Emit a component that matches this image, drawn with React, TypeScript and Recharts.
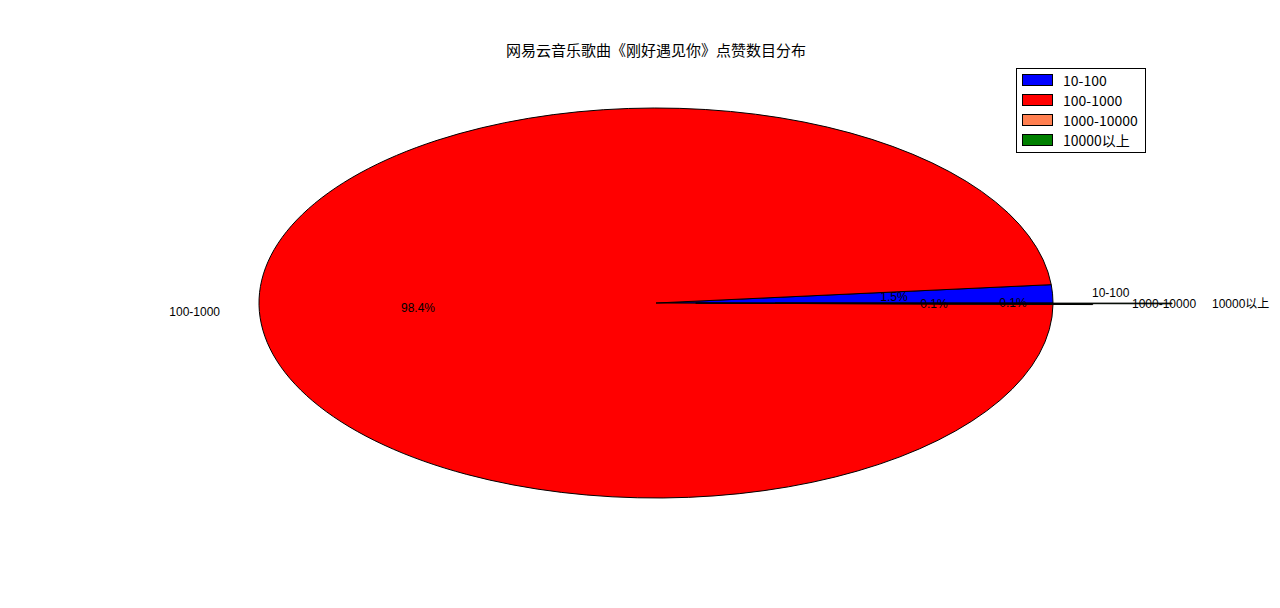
import { PieChart, Pie, Cell, Legend } from "recharts";

const CATEGORIES = ["10-100", "100-1000", "1000-10000", "10000以上"];
const COUNTS = [75, 4920, 3, 3];
const COLORS = ["#0000ff", "#ff0000", "#ff7f50", "#008000"];
const EXPLODE = [0, 0, 0.1, 0.3];
const TITLE = "网易云音乐歌曲《刚好遇见你》点赞数目分布";

const W = 1280;
const H = 608;
// the chart adds its 5px default margin to cx / cy
const CX = 651;
const CY = 298;
const RY = 195;
// matplotlib drew the pie on a non-square axis, so it comes out as an ellipse
const STRETCH = 397 / 195;
const FONT = "Noto Sans CJK SC, DejaVu Sans, sans-serif";
const LABEL_FONT = "Liberation Sans, Noto Sans CJK SC, sans-serif";
const RAD = Math.PI / 180;

const data = CATEGORIES.map((name, i) => ({ name, value: COUNTS[i] }));

function explodeOf(name: string): number {
  return EXPLODE[CATEGORIES.indexOf(name)] ?? 0;
}

function ellipsePoint(cx: number, cy: number, r: number, deg: number): [number, number] {
  return [cx + STRETCH * r * Math.cos(-deg * RAD), cy + r * Math.sin(-deg * RAD)];
}

function EllipseSector(props: any) {
  const { cx, cy, outerRadius, startAngle, endAngle, fill } = props;
  const name = props.payload?.name ?? props.name;
  const mid = (startAngle + endAngle) / 2;
  const [ox, oy] = ellipsePoint(cx, cy, outerRadius * explodeOf(name), mid);
  const [x1, y1] = ellipsePoint(ox, oy, outerRadius, startAngle);
  const [x2, y2] = ellipsePoint(ox, oy, outerRadius, endAngle);
  const large = Math.abs(endAngle - startAngle) > 180 ? 1 : 0;
  const sweep = endAngle > startAngle ? 0 : 1;
  const d = `M${ox},${oy} L${x1},${y1} A${STRETCH * outerRadius},${outerRadius} 0 ${large} ${sweep} ${x2},${y2} Z`;
  return <path d={d} fill={fill} stroke="#000" strokeWidth={1} strokeLinejoin="miter" />;
}

function renderLabel(props: any) {
  const { cx, cy, midAngle, outerRadius, percent } = props;
  const name = props.payload?.name ?? props.name;
  const [ox, oy] = ellipsePoint(cx, cy, outerRadius * explodeOf(name), midAngle);
  const [lx, ly] = ellipsePoint(ox, oy, outerRadius * 1.1, midAngle);
  const [px, py] = ellipsePoint(ox, oy, outerRadius * 0.6, midAngle);
  const anchor = Math.cos(midAngle * RAD) >= 0 ? "start" : "end";
  return (
    <g style={{ fontFamily: LABEL_FONT, fontSize: 12 }} fill="#000">
      <text x={Math.round(lx)} y={Math.round(ly) + 4} textAnchor={anchor} style={{ fontFamily: LABEL_FONT }}>
        {name}
      </text>
      <text x={Math.round(px)} y={Math.round(py) + 4} textAnchor="middle" style={{ fontFamily: LABEL_FONT }}>
        {(percent * 100).toFixed(1)}%
      </text>
    </g>
  );
}

function LegendBox(props: any) {
  const items = props.payload ?? [];
  return (
    <div
      style={{
        border: "1px solid #000",
        background: "#fff",
        padding: "1px 6px 2px 5px",
        fontFamily: FONT,
        fontSize: 14,
        lineHeight: "20px",
        width: 117,
      }}
    >
      {items.map((it: any) => (
        <div key={it.value} style={{ display: "flex", alignItems: "center", height: 20 }}>
          <span
            style={{
              display: "inline-block",
              width: 29,
              height: 10,
              background: it.color,
              border: "1px solid #000",
              marginRight: 10,
            }}
          />
          <span>{it.value}</span>
        </div>
      ))}
    </div>
  );
}

export default function App() {
  return (
    <div style={{ position: "relative", width: W, height: H, background: "#fff", fontFamily: FONT }}>
      <style>{"body{margin:0;font-family:'Noto Sans CJK SC',sans-serif}"}</style>
      <div
        style={{
          position: "absolute",
          top: 39,
          left: 0,
          width: 1312,
          textAlign: "center",
          fontSize: 15,
          color: "#000",
        }}
      >
        {TITLE}
      </div>
      <PieChart width={W} height={H} style={{ fontFamily: FONT }}>
        <Pie
          data={data}
          dataKey="value"
          nameKey="name"
          cx={CX}
          cy={CY}
          outerRadius={RY}
          startAngle={0}
          endAngle={360}
          stroke="#000"
          label={renderLabel}
          labelLine={false}
          shape={EllipseSector}
          isAnimationActive={false}
        >
          {data.map((d, i) => (
            <Cell key={d.name} fill={COLORS[i]} />
          ))}
        </Pie>
        <Legend
          content={LegendBox}
          layout="vertical"
          align="right"
          verticalAlign="top"
          wrapperStyle={{ left: 1016, top: 68, width: "auto", right: "auto" }}
        />
      </PieChart>
    </div>
  );
}
